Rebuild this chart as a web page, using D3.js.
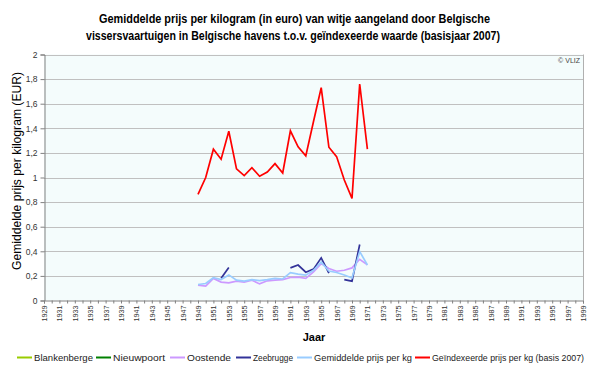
<!DOCTYPE html>
<html><head><meta charset="utf-8">
<script src="https://cdn.jsdelivr.net/npm/d3@7"></script>
<style>body{margin:0;background:#fff}svg{display:block}text{font-family:"Liberation Sans",Arial,sans-serif}</style>
</head><body>
<svg id="c" width="600" height="368"></svg>
<script>
// ---- data ----
const tickYears = [1929,1931,1933,1935,1937,1939,1941,1943,1945,1947,1949,1951,1953,1955,1957,1959,1961,1963,1965,1967,1969,1971,1973,1975,1977,1979,1981,1983,1985,1987,1989,1991,1993,1995,1997,1999];
const yTicks = [0,0.2,0.4,0.6,0.8,1,1.2,1.4,1.6,1.8,2];
const dataYears = [1949,1950,1951,1952,1953,1954,1955,1956,1957,1958,1959,1960,1961,1962,1963,1964,1965,1966,1967,1968,1969,1970,1971];
const blankenberge = [null,null,null,null,null,null,null,null,null,null,null,null,null,null,null,null,null,null,null,null,null,null,null];
const nieuwpoort   = [null,null,null,null,null,null,null,null,null,null,null,null,null,null,null,null,null,null,null,null,null,null,null];
const oostende     = [0.125,0.117,0.18,0.15,0.143,0.157,0.15,0.165,0.135,0.16,0.165,0.17,0.187,0.19,0.18,0.233,0.30,0.26,0.238,0.246,0.265,0.335,0.29];
const zeebrugge    = [null,null,null,0.18,0.268,null,null,null,null,null,null,null,0.265,0.288,0.23,0.255,0.347,0.222,null,0.17,0.157,0.455,null];
const gemiddelde   = [0.13,0.138,0.185,0.17,0.208,0.165,0.157,0.17,0.162,0.17,0.18,0.175,0.227,0.215,0.206,0.246,0.312,0.24,0.228,0.207,0.183,0.398,0.289];
const geindexeerd  = [0.862,1.00,1.23,1.149,1.376,1.07,1.016,1.08,1.01,1.045,1.113,1.037,1.38,1.25,1.176,1.455,1.73,1.246,1.17,0.98,0.83,1.76,1.23];
const seriesNames  = ["Blankenberge","Nieuwpoort","Oostende","Zeebrugge","Gemiddelde prijs per kg","Geïndexeerde prijs per kg (basis 2007)"];
const seriesColors = ["#99cc00","#008000","#cc99ff","#333399","#99ccff","#ff0000"];
const seriesValues = [blankenberge,nieuwpoort,oostende,zeebrugge,gemiddelde,geindexeerd];

// ---- layout ----
const svg = d3.select("#c");
const L=44, R=583, T=54.5, B=300.5;
const x = d3.scaleLinear().domain([1929,1999]).range([L,R]);
const y = d3.scaleLinear().domain([0,2]).range([B,T]);

svg.append("rect").attr("x",L).attr("y",T).attr("width",R-L).attr("height",B-T).attr("fill","#f4fcfc");

// gridlines
svg.append("g").selectAll("line").data(yTicks.filter(d=>d>0)).join("line")
  .attr("x1",L).attr("x2",R).attr("y1",d=>Math.round(y(d))+0.5).attr("y2",d=>Math.round(y(d))+0.5)
  .attr("stroke","#c0c0c0").attr("stroke-width",1);
// right border
svg.append("line").attr("x1",R+0.5).attr("x2",R+0.5).attr("y1",T).attr("y2",B).attr("stroke","#b0b0b0");

// y axis
const yAxis = d3.axisLeft(y).tickValues(yTicks).tickSize(4).tickPadding(3)
  .tickFormat(d=>d3.format("")(+d.toFixed(1)).replace(".",","));
const gy = svg.append("g").attr("transform",`translate(${L+0.5},0)`).call(yAxis);
gy.select(".domain").attr("stroke","#808080");
gy.selectAll(".tick line").attr("stroke","#808080");
gy.selectAll("text").attr("font-size","8.5px").attr("fill","#333").style("font-family","Liberation Sans, Arial, sans-serif");

// x axis: tick every year, labels every two years
const allYears = d3.range(1929,2000);
const xAxis = d3.axisBottom(x).tickValues(allYears).tickSize(3).tickFormat(d=>tickYears.includes(d)?String(d):"");
const gx = svg.append("g").attr("transform",`translate(0,${B})`).call(xAxis);
gx.select(".domain").attr("stroke","#808080");
gx.selectAll(".tick line").attr("stroke","#808080");
gx.selectAll("text").attr("font-size","7.2px").attr("fill","#333")
  .style("font-family","Liberation Sans, Arial, sans-serif")
  .attr("text-anchor","end").attr("transform","rotate(-90)")
  .attr("x",-5).attr("y",0).attr("dy","0.35em");

// lines
const line = d3.line().defined(d=>d[1]!=null).x(d=>x(d[0])).y(d=>y(d[1]));
seriesValues.forEach((vals,i)=>{
  const pts = dataYears.map((yr,j)=>[yr,vals[j]]);
  svg.append("path").datum(pts).attr("d",line).attr("fill","none")
    .attr("stroke",seriesColors[i]).attr("stroke-width",1.7).attr("stroke-linejoin","miter");
});

// texts
svg.append("text").attr("x",580).attr("y",63).attr("text-anchor","end").attr("font-size","7px").attr("fill","#444").text("© VLIZ");
svg.append("text").attr("x",294.5).attr("y",23).attr("text-anchor","middle").attr("font-size","12px").attr("font-weight","bold")
  .attr("textLength",391).attr("lengthAdjust","spacingAndGlyphs")
  .text("Gemiddelde prijs per kilogram (in euro) van witje aangeland door Belgische");
svg.append("text").attr("x",293).attr("y",40).attr("text-anchor","middle").attr("font-size","12px").attr("font-weight","bold")
  .attr("textLength",414).attr("lengthAdjust","spacingAndGlyphs")
  .text("vissersvaartuigen in Belgische havens t.o.v. geïndexeerde waarde (basisjaar 2007)");
svg.append("text").attr("transform","translate(21,171) rotate(-90)").attr("text-anchor","middle").attr("font-size","12px")
  .attr("textLength",198).attr("lengthAdjust","spacingAndGlyphs")
  .text("Gemiddelde prijs per kilogram (EUR)");
svg.append("text").attr("x",314).attr("y",341).attr("text-anchor","middle").attr("font-size","11px").attr("font-weight","bold").text("Jaar");

// legend
const legX = [17,96,170,236,297,415];
const legW = [59,52,44,40,98,152];
const lg = svg.append("g");
seriesNames.forEach((n,i)=>{
  lg.append("line").attr("x1",legX[i]).attr("x2",legX[i]+15).attr("y1",357.5).attr("y2",357.5).attr("stroke",seriesColors[i]).attr("stroke-width",2);
  lg.append("text").attr("x",legX[i]+17).attr("y",361).attr("font-size","9.5px").attr("fill","#222")
    .attr("textLength",legW[i]).attr("lengthAdjust","spacingAndGlyphs").text(n);
});
</script>
</body></html>
